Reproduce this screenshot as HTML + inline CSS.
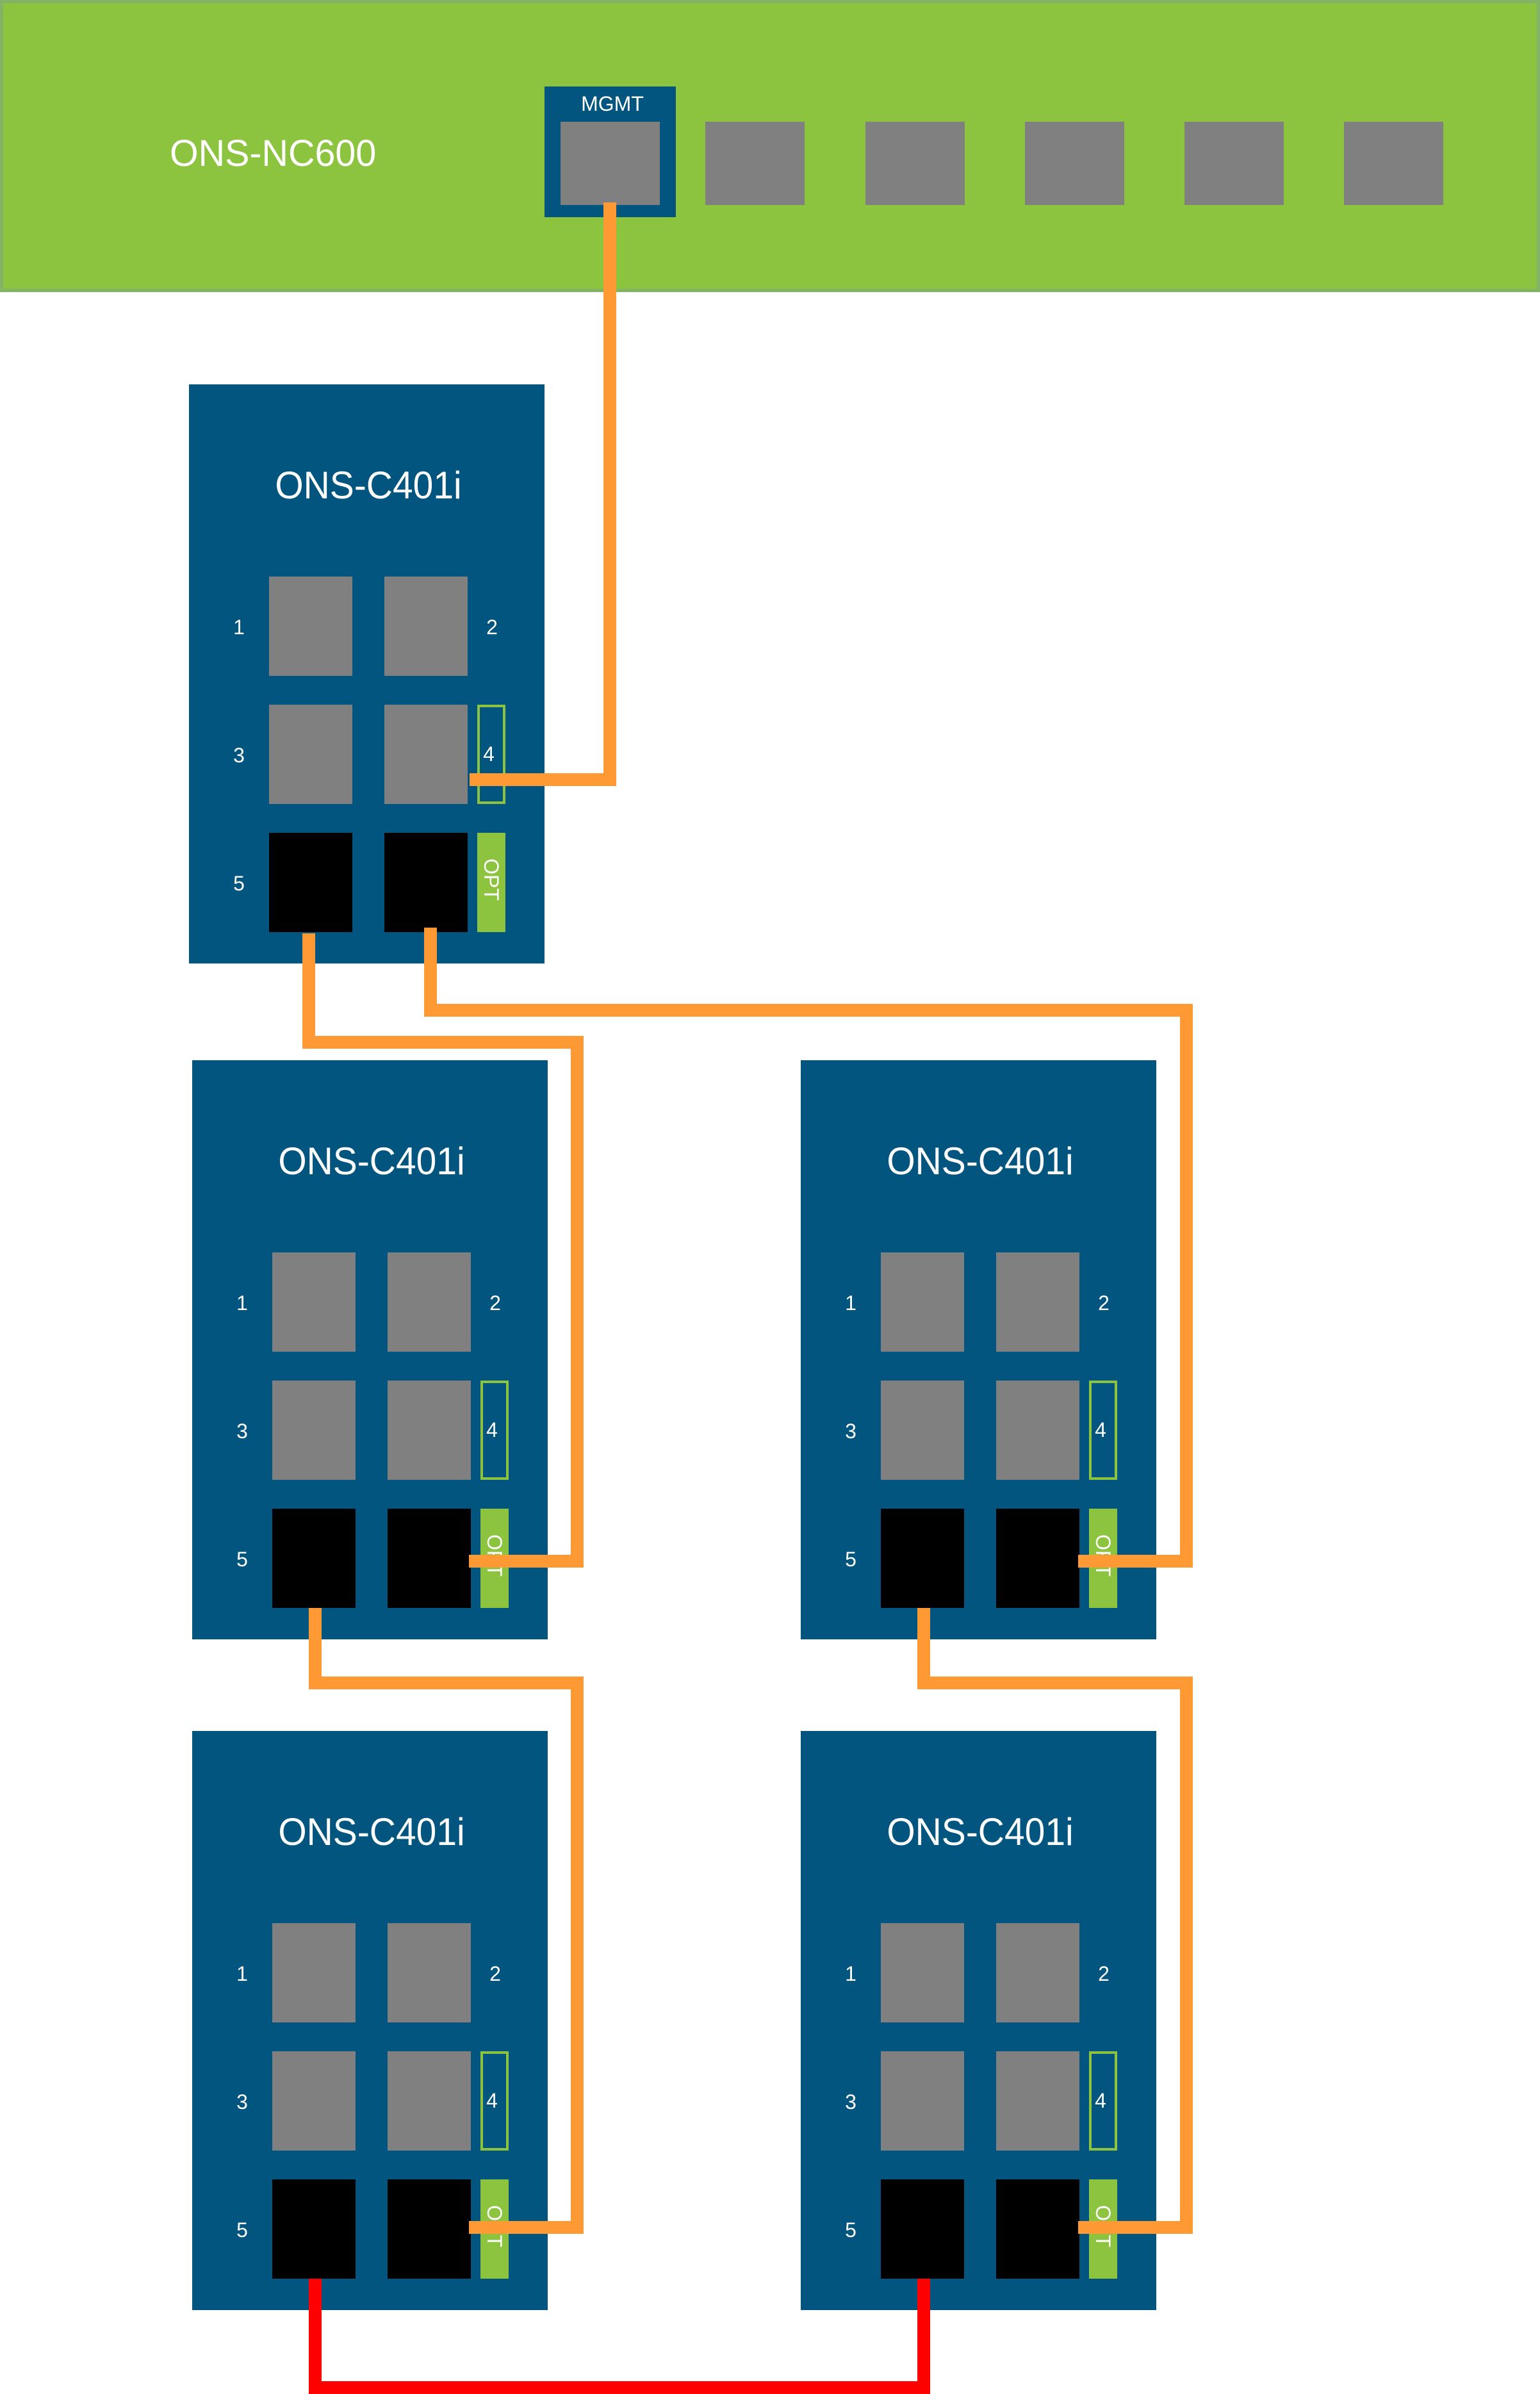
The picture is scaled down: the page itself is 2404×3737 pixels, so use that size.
<!DOCTYPE html>
<html><head><meta charset="utf-8"><style>
html,body{margin:0;padding:0;background:#fff}
svg{display:block}
text{font-family:"Liberation Sans",sans-serif;fill:#fff}
</style></head><body>
<svg width="2404" height="3737" viewBox="0 0 2404 3737" xmlns="http://www.w3.org/2000/svg">
<defs>
<g id="dev">
  <rect x="0" y="0" width="555" height="904" fill="#02557f"/>
  <text x="0" y="0" font-size="60" text-anchor="middle" transform="translate(280,178) scale(0.95,1)">ONS-C401i</text>
  <rect x="125" y="300" width="130" height="155" fill="#808080"/>
  <rect x="305" y="300" width="130" height="155" fill="#808080"/>
  <rect x="125" y="500" width="130" height="155" fill="#808080"/>
  <rect x="305" y="500" width="130" height="155" fill="#808080"/>
  <rect x="125" y="700" width="130" height="155" fill="#000"/>
  <rect x="305" y="700" width="130" height="155" fill="#000"/>
  <rect x="452" y="502" width="40" height="151" fill="none" stroke="#8cc43f" stroke-width="4"/>
  <rect x="450" y="700" width="44" height="155" fill="#8cc43f"/>
  <text x="78" y="390" font-size="32" text-anchor="middle">1</text>
  <text x="473" y="390" font-size="32" text-anchor="middle">2</text>
  <text x="78" y="590" font-size="32" text-anchor="middle">3</text>
  <text x="468" y="588" font-size="32" text-anchor="middle">4</text>
  <text x="78" y="790" font-size="32" text-anchor="middle">5</text>
  <text x="0" y="0" font-size="32" text-anchor="middle" transform="translate(461,773) rotate(90)">OPT</text>
</g>
</defs>
<rect x="2.5" y="2.5" width="2399" height="451" fill="#8cc43f" stroke="#82b366" stroke-width="5"/>
<text x="0" y="0" font-size="58" transform="translate(265,259) scale(0.99,1)">ONS-NC600</text>
<rect x="850" y="135" width="205" height="204" fill="#02557f"/>
<text x="956" y="173" font-size="32" text-anchor="middle">MGMT</text>
<rect x="875" y="190" width="155" height="130" fill="#808080"/>
<rect x="1101" y="190" width="155" height="130" fill="#808080"/>
<rect x="1351" y="190" width="155" height="130" fill="#808080"/>
<rect x="1600" y="190" width="155" height="130" fill="#808080"/>
<rect x="1849" y="190" width="155" height="130" fill="#808080"/>
<rect x="2098" y="190" width="155" height="130" fill="#808080"/>

<use href="#dev" x="295" y="600"/>
<use href="#dev" x="300" y="1655"/>
<use href="#dev" x="1250" y="1655"/>
<use href="#dev" x="300" y="2702"/>
<use href="#dev" x="1250" y="2702"/>

<g fill="none" stroke="#ff9933" stroke-width="20" stroke-linejoin="miter">
  <polyline points="952,316 952,1217 733,1217"/>
  <polyline points="482,1457 482,1627 901,1627 901,2437 732,2437"/>
  <polyline points="672,1448 672,1577 1852,1577 1852,2437 1683,2437"/>
  <polyline points="492,2510 492,2627 901,2627 901,3477 732,3477"/>
  <polyline points="1442,2510 1442,2627 1852,2627 1852,3477 1683,3477"/>
</g>
<polyline points="492,3557 492,3727 1442,3727 1442,3557" fill="none" stroke="#ff0000" stroke-width="20"/>
</svg>
</body></html>
